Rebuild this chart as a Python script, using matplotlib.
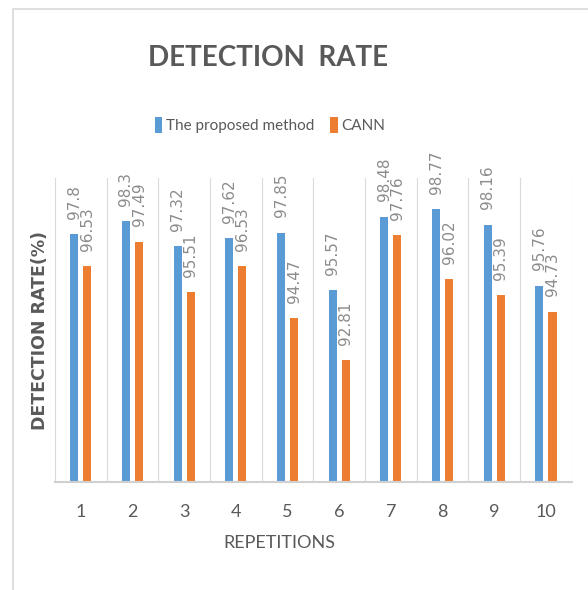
import matplotlib.pyplot as plt
from matplotlib.patches import Rectangle
import numpy as np

repetitions = ['1', '2', '3', '4', '5', '6', '7', '8', '9', '10']
proposed = [97.8, 98.3, 97.32, 97.62, 97.85, 95.57, 98.48, 98.77, 98.16, 95.76]
cann = [96.53, 97.49, 95.51, 96.53, 94.47, 92.81, 97.76, 96.02, 95.39, 94.73]

BLUE = '#5B9BD5'
ORANGE = '#ED7D31'
DARK = '#595959'
NARROW = ['Lato', 'DejaVu Sans']

fig = plt.figure(figsize=(5.88, 5.90), dpi=100)

# chart area outline
fig.patches.append(Rectangle((13 / 588, -0.5), 1.5, 1.5 - 9 / 590,
                             transform=fig.transFigure, fill=False,
                             ec='#D9D9D9', lw=1.2))

ax = fig.add_axes([0.0935, 0.183, 0.879, 0.515])

x = np.arange(len(repetitions))
w = 0.155
off = 0.126
b1 = ax.bar(x - off, proposed, w, color=BLUE, label='The proposed method')
b2 = ax.bar(x + off, cann, w, color=ORANGE, label='CANN')

ax.set_ylim(88, 100)
ax.set_xlim(-0.5, len(x) - 0.5)
ax.set_yticks([])

# separators between repetitions
ax.set_xticks(np.arange(len(x) + 1) - 0.5, minor=True)
ax.grid(which='minor', axis='x', color='#D9D9D9', lw=0.8)
ax.set_axisbelow(True)

ax.set_xticks(x, repetitions)
ax.tick_params(axis='x', which='both', length=0)
ax.tick_params(axis='x', which='major', pad=16, labelsize=13, labelcolor=DARK)
for lbl in ax.get_xticklabels():
    lbl.set_family(NARROW)

for s in ['top', 'right', 'left']:
    ax.spines[s].set_visible(False)
ax.spines['bottom'].set_color('#D0D0D0')
ax.spines['bottom'].set_linewidth(1.5)

for bars, vals in ((b1, proposed), (b2, cann)):
    for r, v in zip(bars, vals):
        ax.annotate(f'{v:g}', (r.get_x() + r.get_width() / 2, v),
                    xytext=(0, 11), textcoords='offset points',
                    rotation=90, ha='center', va='bottom',
                    fontsize=11, color='#8C8C8C')

ax.set_ylabel('DETECTION RATE(%)', fontsize=12.5, fontweight='bold',
              color=DARK, labelpad=4)
ax.set_xlabel('REPETITIONS', fontsize=13, color=DARK, family=NARROW)
ax.xaxis.set_label_coords((279 - 55) / 517, -(535 - 482) / 304)

fig.text(268.5 / 588, 1 - 57.5 / 590, 'DETECTION  RATE', ha='center',
         va='center', fontsize=20, fontweight='bold', color=DARK,
         family=NARROW)

fig.legend(handles=[b1, b2], loc='center',
           bbox_to_anchor=(270 / 588, 1 - 125 / 590), ncol=2,
           frameon=False, prop=dict(family=NARROW, size=11),
           labelcolor=DARK, handlelength=0.5, handleheight=1.2,
           handletextpad=0.25, columnspacing=1.0)

fig.savefig('out.png', dpi=100)
